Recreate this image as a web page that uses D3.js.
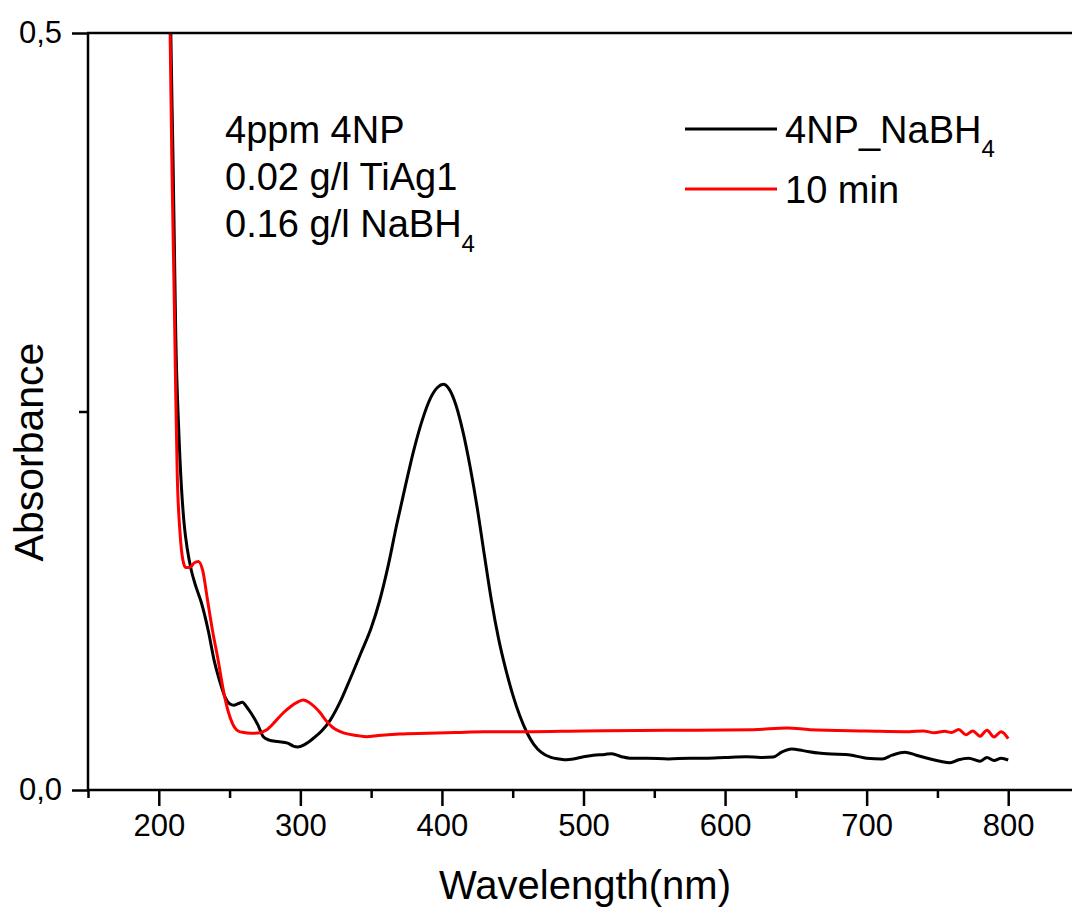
<!DOCTYPE html>
<html>
<head>
<meta charset="utf-8">
<script src="https://cdn.jsdelivr.net/npm/d3@7"></script>
<style>
  html, body { margin: 0; padding: 0; background: #fff; }
  svg text { font-family: "Liberation Sans", Arial, sans-serif; fill: #000; }
</style>
</head>
<body>
<svg id="chart"></svg>
<script>
// wavelength (nm) / absorbance
const blackWl = [205, 208.5, 210, 211, 212, 214, 216, 218, 220, 223, 226, 230, 235, 239, 243, 247, 250, 253, 256, 259, 262, 265, 270, 274, 278, 284, 291, 295, 298, 303, 309, 315, 321, 328, 335, 343, 350, 356, 362, 368, 374, 380, 386, 392, 397, 401, 405, 410, 415, 420, 425, 430, 435, 440, 445, 450, 455, 460, 465, 470, 477, 483, 488, 493, 500, 507, 515, 520, 527, 533, 545, 560, 575, 586, 600, 615, 625, 634, 640, 647, 655, 666, 675, 685, 692, 700, 711, 718, 727, 735, 745, 752, 759, 765, 772, 780, 785, 790, 795, 800];
const blackAbs = [0.9, 0.5, 0.42, 0.36, 0.30, 0.24, 0.20, 0.175, 0.16, 0.145, 0.135, 0.124, 0.105, 0.086, 0.072, 0.061, 0.057, 0.056, 0.057, 0.058, 0.055, 0.051, 0.043, 0.035, 0.033, 0.032, 0.031, 0.029, 0.0284, 0.030, 0.034, 0.039, 0.046, 0.058, 0.073, 0.091, 0.107, 0.125, 0.148, 0.175, 0.200, 0.224, 0.244, 0.259, 0.266, 0.268, 0.265, 0.254, 0.236, 0.213, 0.186, 0.155, 0.125, 0.100, 0.080, 0.063, 0.049, 0.038, 0.030, 0.025, 0.0215, 0.0205, 0.020, 0.0205, 0.022, 0.023, 0.0235, 0.024, 0.022, 0.021, 0.021, 0.0205, 0.021, 0.021, 0.0215, 0.022, 0.0215, 0.0218, 0.025, 0.027, 0.026, 0.0244, 0.0238, 0.0235, 0.0225, 0.021, 0.0205, 0.023, 0.025, 0.023, 0.0205, 0.019, 0.018, 0.020, 0.021, 0.019, 0.0215, 0.0195, 0.021, 0.0198];

const redWl = [205, 208, 209.5, 211, 212, 213, 215, 217, 219, 222, 225, 228, 231, 234.5, 238, 241.5, 246, 249, 252, 256, 260, 265, 270, 276, 282, 288, 293, 298, 302, 306, 310, 314, 318, 322.5, 327, 331, 340, 347, 355, 370, 390, 410, 430, 460, 500, 540, 580, 620, 644, 660, 700, 730, 740, 748, 755, 760, 765, 770, 775, 780, 785, 790, 795, 800];
const redAbs = [0.9, 0.5, 0.40, 0.32, 0.26, 0.21, 0.17, 0.152, 0.147, 0.147, 0.150, 0.151, 0.145, 0.125, 0.105, 0.088, 0.064, 0.052, 0.044, 0.039, 0.038, 0.0375, 0.0376, 0.0396, 0.045, 0.051, 0.055, 0.058, 0.0595, 0.058, 0.055, 0.051, 0.046, 0.0416, 0.039, 0.0376, 0.036, 0.0352, 0.036, 0.037, 0.0375, 0.038, 0.0385, 0.0385, 0.039, 0.0393, 0.0395, 0.0398, 0.041, 0.0398, 0.039, 0.0385, 0.039, 0.0378, 0.0388, 0.038, 0.040, 0.0365, 0.039, 0.0355, 0.0395, 0.035, 0.0385, 0.034];

const seriesNames = ["4NP_NaBH", "10 min"];
const seriesColors = ["#000000", "#ff0000"];
const noteLines = ["4ppm 4NP", "0.02 g/l TiAg1", "0.16 g/l NaBH"];

const xMajor = [200, 300, 400, 500, 600, 700, 800];
const xMinor = [150, 250, 350, 450, 550, 650, 750, 850];
const yMajor = [0, 0.5];
const yMinor = [0.25];

const width = 1072, height = 911;
const mLeft = 88, mTop = 33, mBottom = 790;

const svg = d3.select("#chart").attr("width", width).attr("height", height);

const x = d3.scaleLinear().domain([150, 850]).range([mLeft, 1079]);
const y = d3.scaleLinear().domain([0, 0.5]).range([mBottom, mTop]);

const comma = d3.formatLocale({ decimal: ",", thousands: ".", grouping: [3], currency: ["", ""] }).format(".1f");

svg.append("clipPath").attr("id", "plotclip")
  .append("rect").attr("x", mLeft).attr("y", mTop).attr("width", width - mLeft).attr("height", mBottom - mTop);

// curves
const line = d3.line().x(d => x(d[0])).y(d => y(d[1])).curve(d3.curveMonotoneX);
const series = [
  d3.zip(blackWl, blackAbs),
  d3.zip(redWl, redAbs)
];
svg.append("g").attr("clip-path", "url(#plotclip)")
  .selectAll("path").data(series).enter().append("path")
  .attr("d", line)
  .attr("fill", "none")
  .attr("stroke", (d, i) => seriesColors[i])
  .attr("stroke-width", 3)
  .attr("stroke-linejoin", "round");

// x axis
const xAx = svg.append("g").attr("transform", `translate(0,${mBottom})`);
xAx.call(d3.axisBottom(x).tickValues(xMajor).tickSize(16).tickPadding(8).tickFormat(d3.format("d")));
xAx.append("g").call(d3.axisBottom(x).tickValues(xMinor).tickSize(8).tickFormat(""));
xAx.selectAll(".domain").remove();
xAx.selectAll("line").attr("stroke", "#000").attr("stroke-width", 2.5);
xAx.selectAll("text").style("font-size", "31px").attr("fill", "#000");
xAx.append("line").attr("x1", mLeft - 1).attr("x2", width).attr("stroke", "#000").attr("stroke-width", 2.5);

// y axis
const yAx = svg.append("g").attr("transform", `translate(${mLeft},0)`);
yAx.call(d3.axisLeft(y).tickValues(yMajor).tickSize(16).tickPadding(10).tickFormat(comma));
yAx.append("g").call(d3.axisLeft(y).tickValues(yMinor).tickSize(9).tickFormat(""));
yAx.selectAll(".domain").remove();
yAx.selectAll("line").attr("stroke", "#000").attr("stroke-width", 2.5);
yAx.selectAll("text").style("font-size", "31px").attr("fill", "#000");
yAx.append("line").attr("y1", mTop).attr("y2", mBottom + 1).attr("stroke", "#000").attr("stroke-width", 2.5);

// top frame line
svg.append("line").attr("x1", mLeft - 1).attr("x2", width).attr("y1", mTop).attr("y2", mTop)
  .attr("stroke", "#000").attr("stroke-width", 2.5);

// axis titles
svg.append("text").attr("x", 585).attr("y", 899).attr("text-anchor", "middle")
  .style("font-size", "40px").text("Wavelength(nm)");
svg.append("text").attr("transform", "translate(43,452) rotate(-90)").attr("text-anchor", "middle")
  .style("font-size", "41px").text("Absorbance");

// annotation
const note = svg.append("g");
noteLines.forEach((s, i) => {
  const t = note.append("text").attr("x", 225).attr("y", 143 + i * 47).style("font-size", "38px").text(s);
  if (i === 2) t.append("tspan").attr("dy", 15).style("font-size", "24px").text("4");
});

// legend
const leg = svg.append("g");
seriesNames.forEach((s, i) => {
  const yy = 129 + i * 60;
  leg.append("line").attr("x1", 685).attr("x2", 777).attr("y1", yy).attr("y2", yy)
    .attr("stroke", seriesColors[i]).attr("stroke-width", 3);
  const t = leg.append("text").attr("x", 785).attr("y", yy + 14).style("font-size", "38px").text(s);
  if (i === 0) t.append("tspan").attr("dy", 14).style("font-size", "24px").text("4");
});
</script>
</body>
</html>
